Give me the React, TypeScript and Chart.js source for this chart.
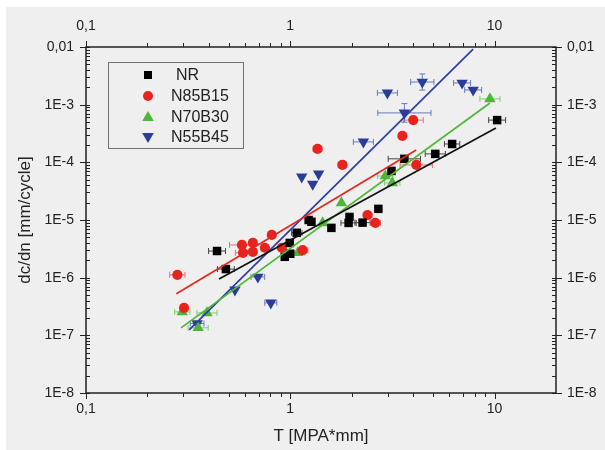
import React, { useEffect, useRef } from 'react';
import { Chart, registerables } from 'chart.js';

Chart.register(...registerables);

const FONT = '"Liberation Sans", Arial, sans-serif';
const TXT = '#222222';
const BG = '#efefef';

// ---- tick values / labels ----
const xMajorValues = [0.1, 1, 10];
const xMajorLabels = ['0,1', '1', '10'];
const xMinorMultipliers = [2, 3, 4, 5, 6, 7, 8, 9];
const yMajorValues = [1e-8, 1e-7, 1e-6, 1e-5, 1e-4, 1e-3, 1e-2];
const yMajorLabels = ['1E-8', '1E-7', '1E-6', '1E-5', '1E-4', '1E-3', '0,01'];

// ---- series: NR ----
const nrX = [0.438, 0.484, 0.94, 0.994, 1.0, 1.076, 1.23, 1.27, 1.59, 1.95, 1.93, 2.26, 2.7, 3.13, 3.62, 5.13, 6.2, 10.3];
const nrY = [2.9e-6, 1.41e-6, 2.3e-6, 4.0e-6, 2.6e-6, 6.0e-6, 1.0e-5, 9.3e-6, 7.3e-6, 1.13e-5, 8.9e-6, 9.0e-6, 1.56e-5, 7.1e-5, 1.15e-4, 1.4e-4, 2.08e-4, 5.4e-4];
const nrXErr = [1.1, 1.1, 1.0, 1.0, 1.0, 1.06, 1.0, 1.0, 1.0, 1.0, 1.09, 1.09, 1.0, 1.0, 1.2, 1.12, 1.09, 1.1];
const nrFitX = [0.448, 10.16];
const nrFitY = [9.5e-7, 3.95e-4];

// ---- series: N85B15 ----
const n85X = [0.28, 0.302, 0.58, 0.587, 0.656, 0.656, 0.751, 0.812, 0.909, 1.15, 1.36, 1.8, 2.39, 2.61, 3.54, 4.0, 4.14];
const n85Y = [1.12e-6, 3.0e-7, 3.7e-6, 2.7e-6, 4.0e-6, 2.8e-6, 3.3e-6, 5.5e-6, 3.3e-6, 3.0e-6, 1.71e-4, 9.0e-5, 1.22e-5, 8.9e-6, 2.87e-4, 5.4e-4, 9.0e-5];
const n85XErr = [1.09, 1.0, 1.15, 1.09, 1.0, 1.0, 1.0, 1.0, 1.0, 1.06, 1.05, 1.05, 1.05, 1.06, 1.0, 1.12, 1.2];
const n85FitX = [0.277, 4.14];
const n85FitY = [5.24e-7, 1.64e-4];

// ---- series: N70B30 ----
const n70X = [0.296, 0.391, 0.354, 1.088, 1.44, 1.78, 2.92, 3.16, 9.5];
const n70Y = [2.55e-7, 2.45e-7, 1.35e-7, 2.7e-6, 8.9e-6, 1.98e-5, 5.8e-5, 4.4e-5, 1.26e-3];
const n70XErr = [1.09, 1.12, 1.12, 1.08, 1.0, 1.0, 1.09, 1.09, 1.12];
const n70FitX = [0.292, 9.5];
const n70FitY = [1.35e-7, 1.07e-3];

// ---- series: N55B45 ----
const n55X = [0.35, 0.536, 0.694, 0.803, 1.138, 1.288, 1.377, 2.28, 2.99, 3.62, 4.43, 6.94, 7.86];
const n55Y = [1.6e-7, 6.15e-7, 1.03e-6, 3.66e-7, 5.6e-5, 4.2e-5, 6.3e-5, 2.26e-4, 1.6e-3, 7.2e-4, 2.47e-3, 2.38e-3, 1.8e-3];
const n55XErr = [1.08, 1.0, 1.08, 1.07, 1.0, 1.0, 1.0, 1.12, 1.12, 1.35, 1.14, 1.1, 1.1];
const n55YErr = [1, 1, 1, 1, 1, 1, 1, 1, 1, 1.45, 1.38, 1, 1];
const n55FitX = [0.32, 7.86];
const n55FitY = [1.24e-7, 9.2e-3];

type Series = {
  label: string;
  x: number[];
  y: number[];
  xErr: number[];
  yErr?: number[];
  fitX: number[];
  fitY: number[];
  color: string;
  lineColor: string;
  errColor: string;
  marker: 'rect' | 'circle' | 'tri' | 'tridown';
};

const SERIES: Series[] = [
  { label: 'NR', x: nrX, y: nrY, xErr: nrXErr, fitX: nrFitX, fitY: nrFitY, color: '#000000', lineColor: '#111111', errColor: '#444444', marker: 'rect' },
  { label: 'N85B15', x: n85X, y: n85Y, xErr: n85XErr, fitX: n85FitX, fitY: n85FitY, color: '#e8221c', lineColor: '#e02a20', errColor: '#e87070', marker: 'circle' },
  { label: 'N70B30', x: n70X, y: n70Y, xErr: n70XErr, fitX: n70FitX, fitY: n70FitY, color: '#4fb43a', lineColor: '#4cb834', errColor: '#80cc70', marker: 'tri' },
  { label: 'N55B45', x: n55X, y: n55Y, xErr: n55XErr, yErr: n55YErr, fitX: n55FitX, fitY: n55FitY, color: '#2b3c98', lineColor: '#2e3ca8', errColor: '#6a78c0', marker: 'tridown' },
];

const xTickValues: number[] = [];
[0.1, 1].forEach((d) => {
  xTickValues.push(d);
  xMinorMultipliers.forEach((m) => xTickValues.push(+(d * m).toPrecision(3)));
});
xTickValues.push(10);

const yTickValues: number[] = [];
yMajorValues.forEach((d, i) => {
  yTickValues.push(d);
  if (i < yMajorValues.length - 1) xMinorMultipliers.forEach((m) => yTickValues.push(+(d * m).toPrecision(3)));
});

const near = (a: number, b: number) => Math.abs(a - b) / b < 1e-6;
const xLabel = (v: number) => {
  const i = xMajorValues.findIndex((m) => near(v, m));
  return i >= 0 ? xMajorLabels[i] : '';
};
const yLabel = (v: number) => {
  const i = yMajorValues.findIndex((m) => near(v, m));
  return i >= 0 ? yMajorLabels[i] : '';
};
const isXMajor = (v: number) => xMajorValues.some((m) => near(v, m));
const isYMajor = (v: number) => yMajorValues.some((m) => near(v, m));

function drawMarker(ctx: CanvasRenderingContext2D, kind: string, x: number, y: number, color: string) {
  ctx.save();
  ctx.fillStyle = color;
  ctx.beginPath();
  if (kind === 'rect') {
    ctx.rect(x - 4, y - 4, 8, 8);
  } else if (kind === 'circle') {
    ctx.arc(x, y, 5, 0, Math.PI * 2);
  } else if (kind === 'tri') {
    ctx.moveTo(x, y - 6);
    ctx.lineTo(x + 5.8, y + 4);
    ctx.lineTo(x - 5.8, y + 4);
    ctx.closePath();
  } else {
    ctx.moveTo(x, y + 6);
    ctx.lineTo(x + 5.8, y - 4);
    ctx.lineTo(x - 5.8, y - 4);
    ctx.closePath();
  }
  ctx.fill();
  ctx.restore();
}

const framePlugin = {
  id: 'frameAndExtras',
  beforeDraw(chart: any) {
    const ctx = chart.ctx as CanvasRenderingContext2D;
    ctx.save();
    ctx.fillStyle = '#ffffff';
    ctx.fillRect(0, 0, chart.width, chart.height);
    ctx.fillStyle = BG;
    ctx.fillRect(6, 7, chart.width - 6, chart.height - 7);
    ctx.restore();
  },
  beforeDatasetsDraw(chart: any) {
    const ctx = chart.ctx as CanvasRenderingContext2D;
    const sx = chart.scales.x;
    const sy = chart.scales.y;
    ctx.save();
    ctx.lineWidth = 1;
    SERIES.forEach((s) => {
      ctx.strokeStyle = s.errColor;
      s.x.forEach((xv, i) => {
        const f = s.xErr[i];
        const py = sy.getPixelForValue(s.y[i]);
        if (f > 1) {
          const x1 = sx.getPixelForValue(xv / f);
          const x2 = sx.getPixelForValue(xv * f);
          ctx.beginPath();
          ctx.moveTo(x1, py);
          ctx.lineTo(x2, py);
          ctx.moveTo(x1, py - 3);
          ctx.lineTo(x1, py + 3);
          ctx.moveTo(x2, py - 3);
          ctx.lineTo(x2, py + 3);
          ctx.stroke();
        }
        const fy = s.yErr ? s.yErr[i] : 1;
        if (fy > 1) {
          const px = sx.getPixelForValue(xv);
          const y1 = sy.getPixelForValue(s.y[i] / fy);
          const y2 = sy.getPixelForValue(s.y[i] * fy);
          ctx.beginPath();
          ctx.moveTo(px, y1);
          ctx.lineTo(px, y2);
          ctx.moveTo(px - 3, y1);
          ctx.lineTo(px + 3, y1);
          ctx.moveTo(px - 3, y2);
          ctx.lineTo(px + 3, y2);
          ctx.stroke();
        }
      });
    });
    ctx.restore();
  },
  afterDatasetsDraw(chart: any) {
    const ctx = chart.ctx as CanvasRenderingContext2D;
    const { left, right, top, bottom } = chart.chartArea;
    const sx = chart.scales.x;
    const sy = chart.scales.y;
    ctx.save();
    ctx.strokeStyle = '#222222';
    ctx.lineWidth = 1;
    ctx.beginPath();
    xTickValues.forEach((v) => {
      const px = Math.round(sx.getPixelForValue(v)) + 0.5;
      const len = isXMajor(v) ? 6 : 4;
      ctx.moveTo(px, bottom);
      ctx.lineTo(px, bottom + len);
      ctx.moveTo(px, top);
      ctx.lineTo(px, top - len);
    });
    yTickValues.forEach((v) => {
      const py = Math.round(sy.getPixelForValue(v)) + 0.5;
      if (isYMajor(v)) {
        ctx.moveTo(left - 6, py);
        ctx.lineTo(left + 4, py);
        ctx.moveTo(right - 4, py);
        ctx.lineTo(right + 6, py);
      } else {
        ctx.moveTo(left, py);
        ctx.lineTo(left + 4, py);
        ctx.moveTo(right, py);
        ctx.lineTo(right - 4, py);
      }
    });
    ctx.stroke();
    ctx.lineWidth = 1.5;
    ctx.strokeRect(left, top, right - left, bottom - top);

    // legend
    const lx = 108.5, ly = 62.5, lw = 135, lh = 86;
    ctx.fillStyle = BG;
    ctx.fillRect(lx, ly, lw, lh);
    ctx.lineWidth = 1;
    ctx.strokeStyle = '#707070';
    ctx.strokeRect(lx, ly, lw, lh);
    ctx.font = `16px ${FONT}`;
    ctx.textBaseline = 'middle';
    ctx.textAlign = 'left';
    const rows = [75, 96, 117, 137];
    SERIES.forEach((s, i) => {
      drawMarker(ctx, s.marker, 148, rows[i], s.color);
      ctx.fillStyle = TXT;
      ctx.fillText(s.label, i === 0 ? 176 : 171, rows[i] + 1);
    });
    ctx.restore();
  },
};

const pointStyleOf = (m: string) => (m === 'rect' ? 'rect' : m === 'circle' ? 'circle' : 'triangle');

export default function App() {
  const ref = useRef<HTMLCanvasElement | null>(null);
  useEffect(() => {
    if (!ref.current) return;
    const datasets: any[] = [];
    SERIES.forEach((s) => {
      datasets.push({
        type: 'line',
        label: s.label + ' fit',
        data: s.fitX.map((x, i) => ({ x, y: s.fitY[i] })),
        borderColor: s.lineColor,
        borderWidth: 1.7,
        pointRadius: 0,
        fill: false,
        order: 1,
      });
    });
    SERIES.forEach((s) => {
      datasets.push({
        type: 'scatter',
        label: s.label,
        data: s.x.map((x, i) => ({ x, y: s.y[i] })),
        backgroundColor: s.color,
        borderColor: s.color,
        borderWidth: 0,
        pointStyle: pointStyleOf(s.marker),
        pointRadius: s.marker === 'rect' ? 6 : s.marker === 'circle' ? 5.1 : 6.6,
        rotation: s.marker === 'tridown' ? 180 : 0,
        order: 2,
      });
    });

    const tickFont = { family: FONT, size: 14 };
    const titleFont = { family: FONT, size: 17 };
    const baseX = (pos: string, h: number, pad: number) => ({
      type: 'logarithmic',
      position: pos,
      min: 0.1,
      max: 20,
      afterBuildTicks: (s: any) => {
        s.ticks = xTickValues.map((v) => ({ value: v }));
      },
      afterFit: (s: any) => {
        s.height = h;
      },
      ticks: { callback: (v: any) => xLabel(Number(v)), autoSkip: false, maxRotation: 0, minRotation: 0, padding: pad, font: tickFont, color: TXT },
      grid: { display: false, drawTicks: false },
      border: { display: false },
    });
    const baseY = (pos: string, w: number, pad: number) => ({
      type: 'logarithmic',
      position: pos,
      min: 1e-8,
      max: 1e-2,
      afterBuildTicks: (s: any) => {
        s.ticks = yTickValues.map((v) => ({ value: v }));
      },
      afterFit: (s: any) => {
        s.width = w;
      },
      ticks: { callback: (v: any) => yLabel(Number(v)), autoSkip: false, padding: pad, font: tickFont, color: TXT },
      grid: { display: false, drawTicks: false },
      border: { display: false },
    });

    const chart = new Chart(ref.current, {
      type: 'scatter',
      data: { datasets },
      plugins: [framePlugin],
      options: {
        responsive: false,
        animation: false,
        devicePixelRatio: 1,
        layout: { padding: 0 },
        plugins: { legend: { display: false }, tooltip: { enabled: false } },
        scales: {
          x: {
            ...baseX('bottom', 57, 8),
            title: { display: true, text: 'T [MPA*mm]', font: titleFont, color: TXT, padding: { top: 0, bottom: 3 } },
          },
          x2: baseX('top', 47, 12),
          y: {
            ...baseY('left', 86, 12),
            title: { display: true, text: 'dc/dn [mm/cycle]', font: titleFont, color: TXT, padding: { top: 15, bottom: 0 } },
          },
          y2: baseY('right', 49, 11),
        },
      } as any,
    });
    return () => chart.destroy();
  }, []);

  return (
    <div style={{ position: 'fixed', left: 0, top: 0, width: 605, height: 450 }}>
      <canvas ref={ref} width={605} height={450} style={{ display: 'block', width: 605, height: 450 }} />
    </div>
  );
}
